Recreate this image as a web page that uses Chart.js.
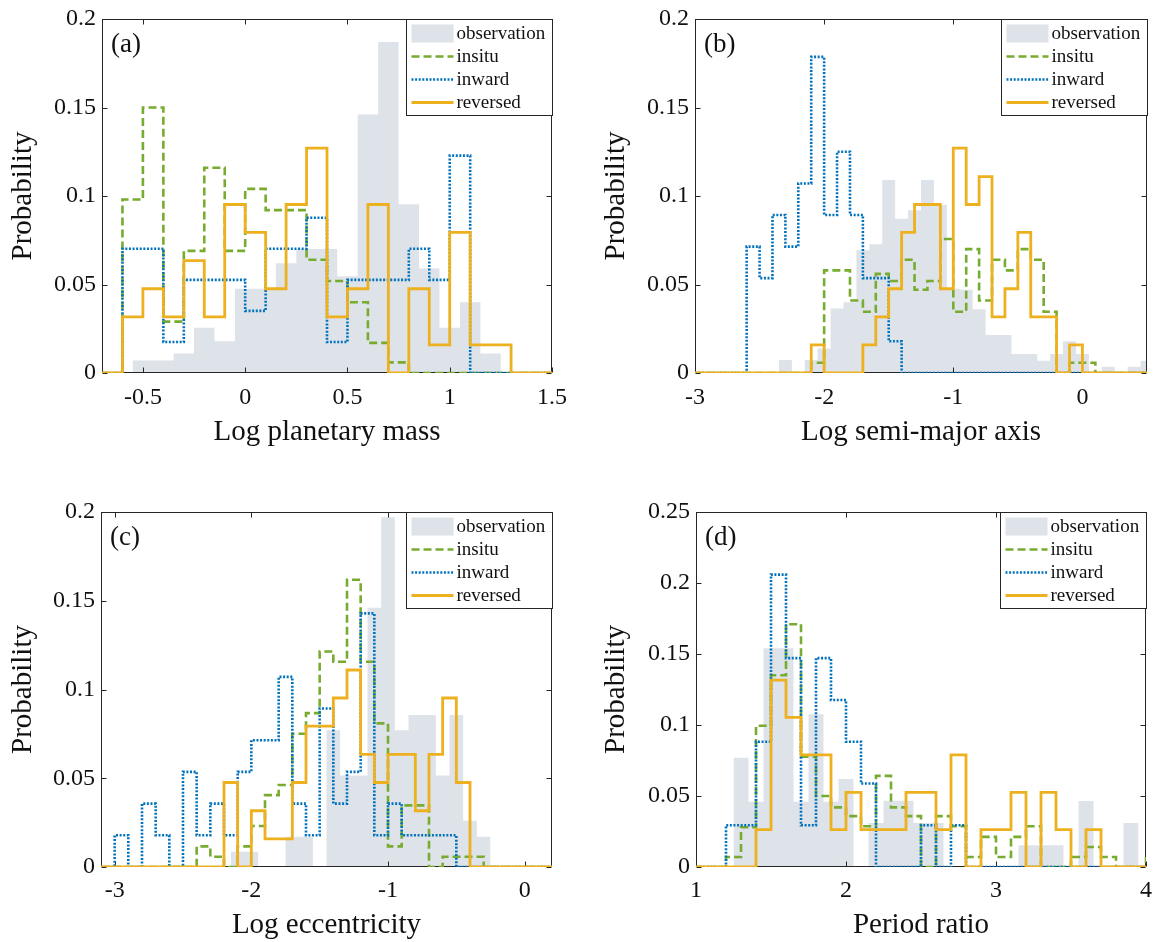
<!DOCTYPE html>
<html>
<head>
<meta charset="utf-8">
<title>Planet population histograms</title>
<script src="https://cdn.jsdelivr.net/npm/chart.js@4.4.1/dist/chart.umd.min.js"></script>
<style>
    body { margin: 0; background: #fff; }
    #wrap { position: relative; width: 1157px; height: 942px; overflow: hidden; }
    #wrap canvas { position: absolute; }
</style>
</head>
<body>
<div id="wrap">
    <canvas id="panelA" width="578" height="471" style="left:0;top:0"></canvas>
    <canvas id="panelB" width="579" height="471" style="left:578px;top:0"></canvas>
    <canvas id="panelC" width="578" height="471" style="left:0;top:471px"></canvas>
    <canvas id="panelD" width="579" height="471" style="left:578px;top:471px"></canvas>
</div>
<script>
/* ================= DATA ================= */
const seriesNames = ['observation', 'insitu', 'inward', 'reversed'];
const binWidth = 0.1;
const probTicks = [0, 0.05, 0.1, 0.15, 0.2];
const periodProbTicks = [0, 0.05, 0.1, 0.15, 0.2, 0.25];

// (a) log planetary mass
const massXTicks = [-0.5, 0, 0.5, 1, 1.5];
const massObsStart = -0.55;
const massObs = [0.007, 0.007, 0.011, 0.0256, 0.018, 0.0476, 0.0476, 0.062, 0.070, 0.070, 0.0547, 0.146, 0.187, 0.0953, 0.059, 0.0256, 0.040, 0.011];
const massSimStart = -0.7;
const massInsitu = [0, 0.098, 0.150, 0.029, 0.069, 0.116, 0.069, 0.104, 0.092, 0.092, 0.064, 0.052, 0.040, 0.017, 0.006, 0, 0, 0, 0, 0, 0, 0];
const massInward = [0, 0.0702, 0.0702, 0.0175, 0.0526, 0.0526, 0.0526, 0.0351, 0.0702, 0.0702, 0.0877, 0.0175, 0.0526, 0.0526, 0.0526, 0.0702, 0.0526, 0.1228, 0, 0, 0, 0];
const massReversed = [0, 0.0317, 0.0476, 0.0317, 0.0635, 0.0317, 0.0952, 0.0794, 0.0476, 0.0952, 0.127, 0.0317, 0.0476, 0.0952, 0, 0.0476, 0.0159, 0.0794, 0.0159, 0.0159, 0, 0];

// (b) log semi-major axis
const axisXTicks = [-3, -2, -1, 0];
const axisObsStart = -2.35;
const axisObs = [0.0073, 0, 0.0073, 0.0139, 0.0365, 0.040, 0.0693, 0.0727, 0.109, 0.0872, 0.0919, 0.109, 0.095, 0.0476, 0.047, 0.036, 0.0214, 0.0214, 0.0107, 0.0107, 0.0069, 0.0107, 0.018, 0.0107, 0, 0.0036, 0, 0.0036, 0.0069];
const axisSimStart = -3.0;
const axisInsitu = [0, 0, 0, 0, 0, 0, 0, 0, 0, 0.0058, 0.058, 0.058, 0.041, 0.0346, 0.056, 0.052, 0.064, 0.047, 0.052, 0.0757, 0.0346, 0.070, 0.041, 0.064, 0.058, 0.070, 0.064, 0.0346, 0, 0.0058, 0.0058, 0, 0, 0, 0];
const axisInward = [0, 0, 0, 0, 0.0714, 0.0536, 0.0893, 0.0714, 0.1071, 0.1786, 0.0893, 0.125, 0.0893, 0.0536, 0.0536, 0.0179, 0, 0, 0, 0, 0, 0, 0, 0, 0, 0, 0, 0, 0, 0, 0, 0, 0, 0, 0];
const axisReversed = [0, 0, 0, 0, 0, 0, 0, 0, 0, 0.0159, 0, 0, 0, 0.0159, 0.0317, 0.0476, 0.0794, 0.0952, 0.0952, 0.0476, 0.127, 0.0952, 0.111, 0.0317, 0.0476, 0.0794, 0.0317, 0.0317, 0, 0.0159, 0, 0, 0, 0, 0];

// (c) log eccentricity
const eccXTicks = [-3, -2, -1, 0];
const eccObsStart = -2.15;
const eccObs = [0.0086, 0.0086, 0, 0, 0.017, 0.017, 0, 0.077, 0.0515, 0.0515, 0.146, 0.197, 0.077, 0.0857, 0.0857, 0.0515, 0.0857, 0.026, 0.017];
const eccSimStart = -3.1;
const eccInsitu = [0, 0, 0, 0, 0, 0, 0, 0.0116, 0.0058, 0, 0.0116, 0.0231, 0.0405, 0.0462, 0.0751, 0.0867, 0.1214, 0.1156, 0.1618, 0.1156, 0.0809, 0.0116, 0.0347, 0.0347, 0, 0.0058, 0.0058, 0.0058, 0, 0, 0, 0, 0];
const eccInward = [0, 0.0179, 0, 0.0357, 0.0179, 0, 0.0536, 0.0179, 0.0357, 0.0179, 0.0536, 0.0714, 0.0714, 0.1071, 0.0357, 0.0179, 0.0893, 0.0357, 0.0536, 0.1429, 0.0179, 0.0357, 0.0179, 0.0179, 0.0179, 0.0179, 0, 0, 0, 0, 0, 0, 0];
const eccReversed = [0, 0, 0, 0, 0, 0, 0, 0, 0, 0.0476, 0, 0.0317, 0.0159, 0.0159, 0.0476, 0.0794, 0.0794, 0.0952, 0.111, 0.0635, 0.0476, 0.0635, 0.0635, 0.0317, 0.0635, 0.0952, 0.0476, 0, 0, 0, 0, 0, 0];

// (d) period ratio
const periodXTicks = [1, 2, 3, 4];
const periodObsStart = 1.25;
const periodObs = [0.077, 0.046, 0.154, 0.154, 0.046, 0.1075, 0.046, 0.062, 0, 0.031, 0.0466, 0.0466, 0.031, 0.031, 0, 0, 0, 0, 0, 0.0153, 0.0153, 0.0153, 0, 0.0464, 0, 0, 0.031];
const periodSimStart = 1.0;
const periodInsitu = [0, 0, 0.007, 0.028, 0.0995, 0.135, 0.171, 0.0776, 0.050, 0.042, 0.0358, 0.0287, 0.0642, 0.042, 0.0358, 0, 0.0358, 0.0287, 0.007, 0.0212, 0.007, 0.0212, 0.0287, 0, 0, 0.007, 0.0141, 0.007, 0, 0, 0.007];
const periodInward = [0, 0, 0.0294, 0.0294, 0.0882, 0.2059, 0.1471, 0.0294, 0.1471, 0.1176, 0.0882, 0.0588, 0, 0, 0, 0.0294, 0, 0.0294, 0, 0, 0, 0, 0, 0, 0, 0, 0, 0, 0, 0];
const periodReversed = [0, 0, 0, 0, 0.0263, 0.1316, 0.1053, 0.0789, 0.0789, 0.0263, 0.0526, 0.0263, 0.0263, 0.0263, 0.0526, 0.0526, 0.0263, 0.0789, 0, 0.0263, 0.0263, 0.0526, 0, 0.0526, 0.0263, 0, 0.0263, 0, 0, 0];

/* ================= STYLE ================= */
const serif = "'Liberation Serif', 'Times New Roman', serif";
const inkColor = '#111';
const axisColor = '#262626';
const obsColor = '#dee2e9';
const insituColor = '#77ac30';
const inwardColor = '#0072bd';
const reversedColor = '#edb120';
const tickLen = 5;
const legendW = 146, legendH = 96;
const legendRows = [14, 37, 60, 83];

// histogram outline: rise at first edge, flat over each bin, drop at the last edge
function stairs(start, values) {
    const pts = [{ x: start, y: 0 }];
    values.forEach((v, i) => {
        const x0 = +(start + i * binWidth).toFixed(3);
        const x1 = +(start + (i + 1) * binWidth).toFixed(3);
        pts.push({ x: x0, y: v }, { x: x1, y: v });
    });
    pts.push({ x: pts[pts.length - 1].x, y: 0 });
    return pts;
}

/* ================= DECOR PLUGIN ================= */
const panelDecor = {
    id: 'panelDecor',
    afterDatasetDraw(chart, args) {
        if (args.index !== 0) return; // box sits above the grey bars, below the outlines
        const { ctx, chartArea: a, scales: { x, y } } = chart;
        const l = Math.round(a.left) + 0.5, r = Math.round(a.right) - 0.5;
        const t = Math.round(a.top) + 0.5, b = Math.round(a.bottom) - 0.5;
        ctx.save();
        ctx.strokeStyle = axisColor;
        ctx.lineWidth = 1;
        ctx.beginPath();
        x.ticks.forEach(tk => {
            const px = Math.round(x.getPixelForValue(tk.value)) + 0.5;
            ctx.moveTo(px, b); ctx.lineTo(px, b - tickLen);
            ctx.moveTo(px, t); ctx.lineTo(px, t + tickLen);
        });
        y.ticks.forEach(tk => {
            const py = Math.round(y.getPixelForValue(tk.value)) + 0.5;
            ctx.moveTo(l, py); ctx.lineTo(l + tickLen, py);
            ctx.moveTo(r, py); ctx.lineTo(r - tickLen, py);
        });
        ctx.stroke();
        ctx.strokeRect(l, t, r - l, b - t);
        ctx.restore();
    },
    afterDatasetsDraw(chart, args, opts) {
        const { ctx, chartArea: a } = chart;
        ctx.save();
        // panel tag
        ctx.fillStyle = inkColor;
        ctx.font = '27px ' + serif;
        ctx.textAlign = 'left';
        ctx.textBaseline = 'alphabetic';
        ctx.fillText(opts.label, a.left + 9, a.top + 32.5);

        // legend box
        const bx = Math.round(a.right - legendW) + 0.5;
        const by = Math.round(a.top) + 0.5;
        ctx.fillStyle = '#fff';
        ctx.fillRect(bx, by, legendW, legendH);
        ctx.strokeStyle = axisColor;
        ctx.lineWidth = 1;
        ctx.strokeRect(bx, by, legendW, legendH);
        ctx.font = '19px ' + serif;
        ctx.textBaseline = 'middle';
        chart.data.datasets.forEach((ds, i) => {
            const cy = by + legendRows[i];
            if (ds.fill) {
                ctx.fillStyle = ds.backgroundColor;
                ctx.fillRect(bx + 5, cy - 9, 42, 18);
            } else {
                ctx.save();
                ctx.strokeStyle = ds.borderColor;
                ctx.lineWidth = ds.borderWidth;
                ctx.setLineDash(ds.borderDash || []);
                ctx.beginPath();
                ctx.moveTo(bx + 5, cy);
                ctx.lineTo(bx + 47, cy);
                ctx.stroke();
                ctx.restore();
            }
            ctx.fillStyle = inkColor;
            ctx.fillText(ds.label, bx + 50, cy + 1);
        });
        ctx.restore();
    }
};

/* ================= PANELS ================= */
function buildPanel(canvasId, p) {
    const datasets = [
        {
            label: seriesNames[0], data: stairs(p.obsStart, p.obs),
            fill: 'origin', backgroundColor: obsColor,
            borderColor: 'rgba(0,0,0,0)', borderWidth: 0, order: 4
        },
        {
            label: seriesNames[1], data: stairs(p.simStart, p.insitu),
            borderColor: insituColor, borderWidth: 2.6, borderDash: [8, 4], order: 3
        },
        {
            label: seriesNames[2], data: stairs(p.simStart, p.inward),
            borderColor: inwardColor, borderWidth: 2.6, borderDash: [2, 1.6], order: 2
        },
        {
            label: seriesNames[3], data: stairs(p.simStart, p.reversed),
            borderColor: reversedColor, borderWidth: 2.8, order: 1
        }
    ];

    return new Chart(document.getElementById(canvasId), {
        type: 'line',
        data: { datasets },
        options: {
            responsive: false,
            animation: false,
            events: [],
            devicePixelRatio: 1,
            layout: { padding: { top: p.padTop, right: p.padRight, left: 0, bottom: 0 } },
            elements: {
                point: { radius: 0 },
                line: { tension: 0, borderJoinStyle: 'miter', fill: false }
            },
            plugins: {
                legend: { display: false },
                tooltip: { enabled: false },
                panelDecor: { label: p.label }
            },
            scales: {
                x: {
                    type: 'linear',
                    min: p.xMin,
                    max: p.xMax,
                    grid: { display: false, drawTicks: false },
                    border: { display: false },
                    afterBuildTicks: s => { s.ticks = p.xTicks.map(v => ({ value: v })); },
                    afterFit: s => {
                        s.height = p.axisH;
                        s.paddingLeft = 0;
                        s.paddingRight = 0;
                    },
                    ticks: {
                        autoSkip: false, maxRotation: 0, padding: p.xTickPad,
                        color: inkColor, font: { family: serif, size: 24 },
                        callback: v => String(v)
                    },
                    title: {
                        display: true, text: p.xTitle, color: inkColor,
                        font: { family: serif, size: 29, lineHeight: 1 },
                        padding: { top: 0, bottom: p.xTitlePad }
                    }
                },
                y: {
                    type: 'linear',
                    min: 0,
                    max: p.yMax,
                    grid: { display: false, drawTicks: false },
                    border: { display: false },
                    afterBuildTicks: s => { s.ticks = p.yTicks.map(v => ({ value: v })); },
                    afterFit: s => {
                        s.width = p.axisW;
                        s.paddingTop = 0;
                        s.paddingBottom = 0;
                    },
                    ticks: {
                        autoSkip: false, padding: 6,
                        color: inkColor, font: { family: serif, size: 24 },
                        callback: v => String(v)
                    },
                    title: {
                        display: true, text: 'Probability', color: inkColor,
                        font: { family: serif, size: 29, lineHeight: 1 },
                        padding: { top: p.yTitlePad, bottom: 0 }
                    }
                }
            }
        },
        plugins: [panelDecor]
    });
}

buildPanel('panelA', {
    label: '(a)', xTitle: 'Log planetary mass',
    xMin: -0.7, xMax: 1.5, xTicks: massXTicks, yMax: 0.2, yTicks: probTicks,
    obsStart: massObsStart, obs: massObs, simStart: massSimStart,
    insitu: massInsitu, inward: massInward, reversed: massReversed,
    padTop: 19, padRight: 26, axisW: 102, axisH: 98,
    xTickPad: 10, xTitlePad: 24, yTitlePad: 9
});

buildPanel('panelB', {
    label: '(b)', xTitle: 'Log semi-major axis',
    xMin: -3, xMax: 0.5, xTicks: axisXTicks, yMax: 0.2, yTicks: probTicks,
    obsStart: axisObsStart, obs: axisObs, simStart: axisSimStart,
    insitu: axisInsitu, inward: axisInward, reversed: axisReversed,
    padTop: 19, padRight: 10, axisW: 117, axisH: 98,
    xTickPad: 10, xTitlePad: 24, yTitlePad: 24
});

buildPanel('panelC', {
    label: '(c)', xTitle: 'Log eccentricity',
    xMin: -3.1, xMax: 0.2, xTicks: eccXTicks, yMax: 0.2, yTicks: probTicks,
    obsStart: eccObsStart, obs: eccObs, simStart: eccSimStart,
    insitu: eccInsitu, inward: eccInward, reversed: eccReversed,
    padTop: 41, padRight: 26, axisW: 101, axisH: 75,
    xTickPad: 9, xTitlePad: 2, yTitlePad: 9
});

buildPanel('panelD', {
    label: '(d)', xTitle: 'Period ratio',
    xMin: 1, xMax: 4, xTicks: periodXTicks, yMax: 0.25, yTicks: periodProbTicks,
    obsStart: periodObsStart, obs: periodObs, simStart: periodSimStart,
    insitu: periodInsitu, inward: periodInward, reversed: periodReversed,
    padTop: 41, padRight: 11, axisW: 118, axisH: 75,
    xTickPad: 9, xTitlePad: 2, yTitlePad: 24
});
</script>
</body>
</html>
